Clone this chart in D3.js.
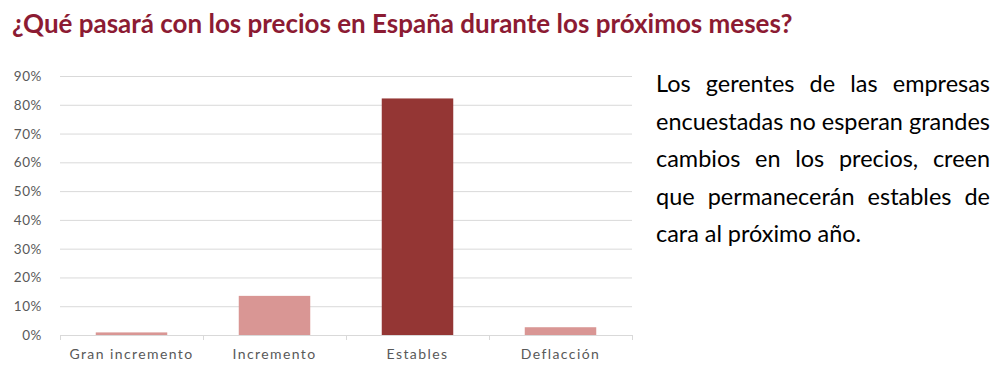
<!DOCTYPE html>
<html>
<head>
<meta charset="utf-8">
<script src="https://cdn.jsdelivr.net/npm/d3@7"></script>
<style>
  html, body { margin: 0; padding: 0; background: #fff; }
  svg { display: block; }
</style>
</head>
<body>
<script>
// data
const categories = ["Gran incremento", "Incremento", "Estables", "Deflacción"];
const values = [0.9, 13.6, 82.2, 2.7];
const yTicks = [0, 10, 20, 30, 40, 50, 60, 70, 80, 90];
const title = "¿Qué pasará con los precios en España durante los próximos meses?";
const noteLines = [
  "Los gerentes de las empresas",
  "encuestadas no esperan grandes",
  "cambios en los precios, creen",
  "que permanecerán estables de",
  "cara al próximo año."
];

const width = 1001, height = 374;
const margin = { top: 76, right: 369, bottom: 39, left: 60 };

const svg = d3.select("body").append("svg")
  .attr("width", width)
  .attr("height", height);

// title, squeezed/stretched to the width it has in the picture
const t = svg.append("text")
  .attr("x", 12).attr("y", 33)
  .attr("fill", "#8c1b33")
  .style("font-family", "Lato, 'Open Sans', sans-serif")
  .style("font-weight", "bold")
  .style("font-size", "22px")
  .text(title);
const tw = t.node().getComputedTextLength();
t.style("font-size", (22 * 781 / tw) + "px");

const x = d3.scaleBand()
  .domain(categories)
  .range([margin.left, width - margin.right])
  .paddingInner(0)
  .paddingOuter(0);

const y = d3.scaleLinear()
  .domain([0, 90])
  .range([height - margin.bottom, margin.top]);

// gridlines
svg.append("g")
  .selectAll("line")
  .data(yTicks.filter(d => d > 0))
  .join("line")
  .attr("x1", margin.left)
  .attr("x2", width - margin.right)
  .attr("y1", d => y(d) + 0.5)
  .attr("y2", d => y(d) + 0.5)
  .attr("stroke", "#d9d9d9")
  .attr("stroke-width", 1);

// y labels
svg.append("g")
  .selectAll("text")
  .data(yTicks)
  .join("text")
  .attr("x", 42)
  .attr("y", d => y(d) + 5)
  .attr("text-anchor", "end")
  .attr("fill", "#595959")
  .style("font-family", "Lato, sans-serif")
  .style("font-size", "13.5px")
  .style("letter-spacing", "0.6px")
  .text(d => d + "%");

// bars
const barW = x.bandwidth() * 0.5;
svg.append("g")
  .selectAll("rect")
  .data(categories.map((c, i) => ({ c, v: values[i] })))
  .join("rect")
  .attr("x", d => x(d.c) + (x.bandwidth() - barW) / 2)
  .attr("width", barW)
  .attr("y", d => y(d.v))
  .attr("height", d => y(0) - y(d.v))
  .attr("fill", d => d.c === "Estables" ? "#943634" : "#d99694");

// x axis
const xAxis = svg.append("g")
  .attr("transform", `translate(0,${y(0)})`);
xAxis.append("line")
  .attr("x1", margin.left).attr("x2", width - margin.right)
  .attr("y1", 0.5).attr("y2", 0.5)
  .attr("stroke", "#d9d9d9");
xAxis.selectAll("line.tick")
  .data(categories.concat(["_end"]))
  .join("line")
  .attr("class", "tick")
  .attr("x1", (d, i) => margin.left + i * x.bandwidth() + 0.5)
  .attr("x2", (d, i) => margin.left + i * x.bandwidth() + 0.5)
  .attr("y1", 0).attr("y2", 5)
  .attr("stroke", "#d9d9d9");
xAxis.selectAll("text")
  .data(categories)
  .join("text")
  .attr("x", d => x(d) + x.bandwidth() / 2)
  .attr("y", 24)
  .attr("text-anchor", "middle")
  .attr("fill", "#595959")
  .style("font-family", "Lato, sans-serif")
  .style("font-size", "14px")
  .style("letter-spacing", "1.4px")
  .text(d => d);

// justified note on the right
const noteX0 = 656, noteX1 = 990;
const note = svg.append("g")
  .style("font-family", "Lato, 'Open Sans', sans-serif")
  .style("font-size", "20px")
  .attr("fill", "#000");

// size the font so the tightest line fills the column with normal spaces
const probe = note.append("text").text(noteLines[1]);
const pw = probe.node().getComputedTextLength();
probe.remove();
const fs = 20 * (noteX1 - noteX0) / pw;
note.style("font-size", fs + "px");

noteLines.forEach((line, li) => {
  const words = line.split(" ");
  const yy = 92 + li * 37.6;
  const g = note.append("g");
  const nodes = words.map(w => g.append("text").attr("y", yy).text(w));
  const widths = nodes.map(n => n.node().getComputedTextLength());
  const total = d3.sum(widths);
  const last = li === noteLines.length - 1;
  const space = last ? fs * 0.25 : (noteX1 - noteX0 - total) / (words.length - 1);
  let cx = noteX0;
  nodes.forEach((n, i) => {
    n.attr("x", cx);
    cx += widths[i] + space;
  });
});
</script>
</body>
</html>
